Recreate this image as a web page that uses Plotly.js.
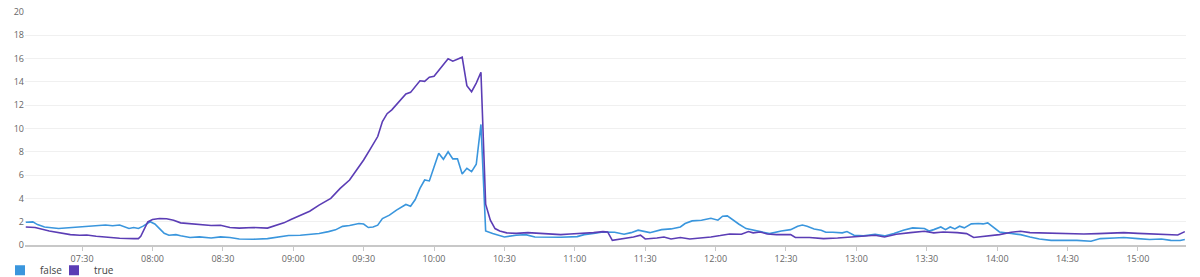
<!DOCTYPE html>
<html>
<head>
<meta charset="utf-8">
<script src="https://cdn.plot.ly/plotly-3.0.1.min.js"></script>
<style>html,body{margin:0;padding:0;background:#fff;}#chart{width:1200px;height:277px;}</style>
</head>
<body>
<div id="chart"></div>
<script>
const day = "2024-01-01 ";
const seriesNames = ["false", "true"];
const seriesColors = ["#3a96dd", "#5b3db5"];

const timesFalse = ["07:06","07:09","07:11","07:14","07:20","07:25","07:30","07:35","07:40","07:43","07:46","07:50","07:52","07:54","07:56","07:59","08:01","08:03","08:05","08:07","08:10","08:12","08:16","08:20","08:25","08:29","08:33","08:37","08:43","08:49","08:54","08:58","09:03","09:11","09:15","09:18","09:21","09:24","09:28","09:30","09:32","09:34","09:36","09:38","09:41","09:44","09:48","09:50","09:52","09:54","09:56","09:58","10:00","10:02","10:04","10:06","10:08","10:10","10:12","10:14","10:16","10:18","10:20","10:22","10:25","10:30","10:35","10:39","10:43","10:48","10:54","11:01","11:04","11:08","11:12","11:17","11:21","11:24","11:27","11:32","11:37","11:41","11:45","11:47","11:50","11:54","11:58","12:01","12:03","12:05","12:07","12:10","12:13","12:16","12:19","12:23","12:28","12:32","12:35","12:37","12:39","12:42","12:45","12:47","12:50","12:54","12:56","12:59","13:03","13:08","13:12","13:16","13:20","13:24","13:29","13:31","13:33","13:36","13:38","13:40","13:42","13:44","13:46","13:49","13:52","13:54","13:56","13:59","14:01","14:06","14:10","14:14","14:18","14:23","14:28","14:34","14:40","14:44","14:50","14:54","15:00","15:05","15:10","15:14","15:18","15:20"];
const valuesFalse = [1.95,1.98,1.75,1.55,1.42,1.5,1.55,1.6,1.72,1.65,1.72,1.42,1.5,1.42,1.62,2.0,1.8,1.4,1.0,0.84,0.89,0.8,0.64,0.7,0.6,0.7,0.65,0.52,0.49,0.55,0.7,0.81,0.84,0.98,1.15,1.3,1.6,1.67,1.84,1.8,1.5,1.55,1.7,2.27,2.56,3.0,3.48,3.33,3.9,4.86,5.58,5.5,6.7,7.88,7.36,8.0,7.39,7.4,6.1,6.58,6.3,6.93,10.35,1.2,0.98,0.69,0.84,0.89,0.69,0.66,0.66,0.72,0.89,0.98,1.12,1.09,0.92,1.06,1.27,1.06,1.32,1.38,1.55,1.84,2.07,2.13,2.3,2.13,2.47,2.5,2.19,1.78,1.41,1.27,1.12,0.98,1.2,1.32,1.61,1.72,1.61,1.38,1.27,1.09,1.09,1.04,1.15,0.84,0.78,0.92,0.78,0.98,1.27,1.47,1.41,1.2,1.32,1.55,1.32,1.55,1.38,1.61,1.47,1.81,1.84,1.81,1.9,1.47,1.12,0.98,0.89,0.69,0.52,0.4,0.4,0.4,0.32,0.55,0.6,0.64,0.55,0.47,0.52,0.4,0.38,0.47];

const timesTrue = ["07:06","07:10","07:16","07:21","07:25","07:29","07:32","07:36","07:42","07:46","07:52","07:54","07:55","07:57","07:58","08:00","08:03","08:06","08:09","08:12","08:16","08:20","08:25","08:29","08:33","08:37","08:43","08:49","08:53","08:56","08:59","09:03","09:07","09:11","09:16","09:20","09:24","09:27","09:30","09:33","09:36","09:38","09:40","09:42","09:44","09:46","09:48","09:50","09:52","09:54","09:56","09:58","10:00","10:02","10:04","10:06","10:08","10:10","10:12","10:14","10:16","10:18","10:20","10:22","10:24","10:26","10:28","10:31","10:35","10:40","10:48","10:54","10:58","11:02","11:08","11:12","11:14","11:16","11:21","11:25","11:28","11:30","11:35","11:38","11:41","11:45","11:49","11:54","11:58","12:02","12:06","12:11","12:14","12:16","12:19","12:22","12:26","12:32","12:34","12:40","12:46","12:52","12:57","13:03","13:08","13:12","13:17","13:23","13:29","13:33","13:37","13:43","13:47","13:50","13:56","14:01","14:06","14:10","14:14","14:20","14:26","14:31","14:37","14:43","14:48","14:54","15:00","15:05","15:10","15:14","15:17","15:20"];
const valuesTrue = [1.55,1.5,1.2,1.03,0.89,0.84,0.86,0.75,0.64,0.58,0.55,0.55,0.75,1.55,1.98,2.19,2.27,2.25,2.13,1.9,1.84,1.76,1.67,1.7,1.5,1.45,1.5,1.45,1.67,1.9,2.19,2.56,2.9,3.42,4.0,4.86,5.58,6.44,7.3,8.3,9.31,10.6,11.27,11.6,12.04,12.53,12.96,13.1,13.57,14.1,14.05,14.4,14.48,15.0,15.49,15.98,15.78,15.98,16.12,13.68,13.16,13.9,14.83,3.5,2.13,1.41,1.2,1.04,1.0,1.06,0.98,0.89,0.95,0.98,1.06,1.15,1.12,0.4,0.55,0.69,0.84,0.52,0.6,0.69,0.52,0.64,0.52,0.58,0.69,0.81,0.95,0.92,1.15,1.04,1.12,0.95,0.89,0.89,0.64,0.64,0.55,0.6,0.69,0.78,0.84,0.69,0.92,1.06,1.18,1.04,1.12,1.06,0.98,0.64,0.75,0.89,1.09,1.18,1.06,1.04,0.98,0.95,0.95,0.98,1.04,1.06,1.0,0.95,0.95,0.86,0.86,1.15];

const yTicks = [0,2,4,6,8,10,12,14,16,18,20];
const xTickTimes = ["07:30","08:00","08:30","09:00","09:30","10:00","10:30","11:00","11:30","12:00","12:30","13:00","13:30","14:00","14:30","15:00"];

const font = "'Open Sans', 'Noto Sans', sans-serif";
const series = [[timesFalse, valuesFalse],[timesTrue, valuesTrue]];
const legendIds = ["legend", "legend2"];
const traces = [];
series.forEach((s, i) => {
  traces.push({
    x: s[0].map(t => day + t), y: s[1], type: "scatter", mode: "lines",
    line: {color: seriesColors[i], width: 1.6}, name: seriesNames[i], showlegend: false,
    hoverinfo: "x+y"
  });
});
seriesNames.forEach((n, i) => {
  traces.push({
    x: [null], y: [null], type: "scatter", mode: "markers", name: n,
    legend: legendIds[i],
    marker: {symbol: "square", size: 10, color: seriesColors[i]}, showlegend: true
  });
});

function legendCfg(xpx) {
  return {
    orientation: "h", xref: "container", yref: "container",
    x: xpx / 1200, y: 0.024, xanchor: "left", yanchor: "middle",
    font: {family: font, size: 10, color: "#444"},
    itemwidth: 30, tracegroupgap: 0, bgcolor: "rgba(0,0,0,0)"
  };
}

const layout = {
  width: 1200, height: 277,
  margin: {l: 25, r: 14, t: 12, b: 32, autoexpand: false},
  paper_bgcolor: "#fff", plot_bgcolor: "#fff",
  font: {family: font, size: 9, color: "#666"},
  xaxis: {
    type: "date",
    range: [day + "07:05:40", day + "15:20:30"],
    tickvals: xTickTimes.map(t => day + t),
    ticktext: xTickTimes,
    showgrid: false, zeroline: false,
    showline: true, linecolor: "#c8c8c8", linewidth: 2,
    ticks: "outside", ticklen: 4, tickcolor: "#c8c8c8", tickwidth: 1,
    tickfont: {family: font, size: 9, color: "#666"}
  },
  yaxis: {
    range: [0, 20], tickvals: yTicks,
    showgrid: true, gridcolor: "#f0f0f0", gridwidth: 1,
    zeroline: false, showline: false, ticks: "",
    tickfont: {family: font, size: 9, color: "#666"}
  },
  showlegend: true,
  legend: legendCfg(0),
  legend2: legendCfg(54)
};
Plotly.newPlot("chart", traces, layout, {displayModeBar: false, staticPlot: true});
</script>
</body>
</html>
